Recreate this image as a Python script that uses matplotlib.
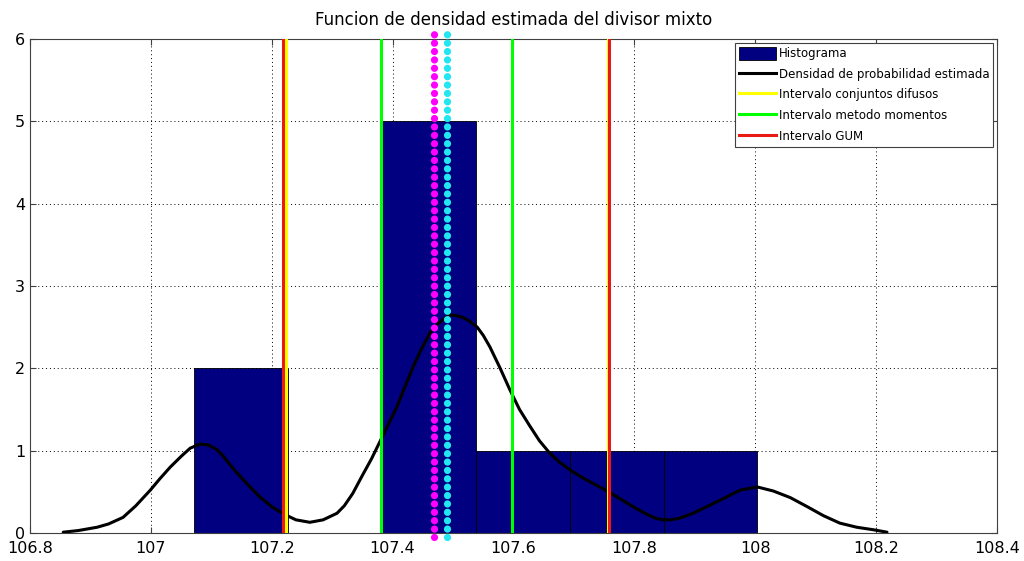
import numpy as np
import matplotlib
matplotlib.use("Agg")
import matplotlib.pyplot as plt
from matplotlib.patches import Patch
from matplotlib.lines import Line2D

# histogram (bin centres and counts)
bin_centres = [107.149, 107.304, 107.460, 107.615, 107.771, 107.926]
counts = [2, 0, 5, 1, 1, 1]
bin_width = 0.1555

# estimated density curve
dens_x = [106.855, 106.88, 106.911, 106.93, 106.954, 106.975, 106.999, 107.015,
          107.032, 107.05, 107.065, 107.081, 107.095, 107.11, 107.12, 107.14,
          107.16, 107.18, 107.20, 107.22, 107.24, 107.263, 107.285, 107.308,
          107.32, 107.334, 107.35, 107.365, 107.379, 107.393, 107.407, 107.42,
          107.434, 107.448, 107.462, 107.473, 107.483, 107.495, 107.505, 107.516,
          107.528, 107.54, 107.55, 107.561, 107.578, 107.594, 107.61, 107.627,
          107.643, 107.66, 107.676, 107.693, 107.71, 107.727, 107.745, 107.76,
          107.78, 107.80, 107.82, 107.835, 107.847, 107.86, 107.875, 107.897,
          107.92, 107.945, 107.975, 108.003, 108.03, 108.058, 108.086, 108.113,
          108.14, 108.168, 108.195, 108.218]
dens_y = [0.01, 0.03, 0.07, 0.11, 0.19, 0.33, 0.52, 0.66,
          0.80, 0.93, 1.03, 1.08, 1.07, 1.01, 0.93, 0.75,
          0.59, 0.44, 0.32, 0.23, 0.16, 0.13, 0.16, 0.24,
          0.33, 0.48, 0.70, 0.90, 1.11, 1.32, 1.53, 1.77,
          2.02, 2.24, 2.43, 2.53, 2.59, 2.65, 2.64, 2.62,
          2.57, 2.50, 2.40, 2.26, 2.00, 1.74, 1.50, 1.30,
          1.12, 0.97, 0.86, 0.77, 0.69, 0.62, 0.55, 0.49,
          0.40, 0.31, 0.23, 0.18, 0.16, 0.16, 0.18, 0.24,
          0.32, 0.41, 0.52, 0.56, 0.51, 0.43, 0.32, 0.21,
          0.12, 0.07, 0.04, 0.01]

# intervals
fuzzy = [107.223, 107.757]
moments = [107.381, 107.597]
gum = [107.219, 107.758]
mark_a = 107.468
mark_b = 107.490

fig = plt.figure(figsize=(10.24, 5.61), dpi=100)
ax = fig.add_axes([0.0293, 0.0499, 0.9443, 0.8806])

ax.bar(bin_centres, counts, width=bin_width, color='#000080', edgecolor='black', linewidth=0.6, zorder=2)
ax.plot(dens_x, dens_y, color='black', linewidth=2.2, zorder=3,
        solid_joinstyle='round', solid_capstyle='round')

for v in fuzzy:
    ax.axvline(v, color='#ffff00', linewidth=2.2, zorder=4)
for v in moments:
    ax.axvline(v, color='#00ff00', linewidth=2.2, zorder=4)
for v in gum:
    ax.axvline(v, color='#e81a14', linewidth=2.2, zorder=5)

# dotted marker lines (not in legend), slightly extended so dots reach the top
for v, c in [(mark_a, '#ff00ff'), (mark_b, '#22e6f0')]:
    ax.plot([v, v], [-0.05, 6.1], color=c, linewidth=5.2, linestyle=(0, (0.01, 1.15)),
            dash_capstyle='round', zorder=6, clip_on=False)

ax.set_xlim(106.8, 108.4)
ax.set_ylim(0, 6)
ax.set_xticks(np.arange(106.8, 108.41, 0.2))
ax.set_xticklabels(['106.8', '107', '107.2', '107.4', '107.6', '107.8', '108', '108.2', '108.4'])
ax.set_yticks(range(7))
ax.tick_params(direction='in', top=True, right=True, labelsize=11.5, length=4, color='#404040')
ax.tick_params(axis='x', pad=6)
ax.grid(True, linestyle=(0, (1, 3)), color='black', linewidth=0.7)
ax.set_axisbelow(True)
for s in ax.spines.values():
    s.set_color('#404040')

ax.set_title('Funcion de densidad estimada del divisor mixto', fontsize=12, pad=10)

handles = [
    Patch(facecolor='#000080', edgecolor='black', linewidth=0.6),
    Line2D([], [], color='black', linewidth=2.2),
    Line2D([], [], color='#ffff00', linewidth=2.2),
    Line2D([], [], color='#00ff00', linewidth=2.2),
    Line2D([], [], color='#e81a14', linewidth=2.2),
]
labels = ['Histograma', 'Densidad de probabilidad estimada', 'Intervalo conjuntos difusos',
          'Intervalo metodo momentos', 'Intervalo GUM']
leg = ax.legend(handles, labels, loc='upper right', fontsize=8.5, fancybox=False,
                framealpha=1, edgecolor='#404040', handlelength=3.1, handleheight=1.3,
                handletextpad=0.25, labelspacing=0.62, borderaxespad=0.3, borderpad=0.35)
leg.get_frame().set_linewidth(0.8)
leg.set_zorder(10)

fig.savefig('out.png', dpi=100)
